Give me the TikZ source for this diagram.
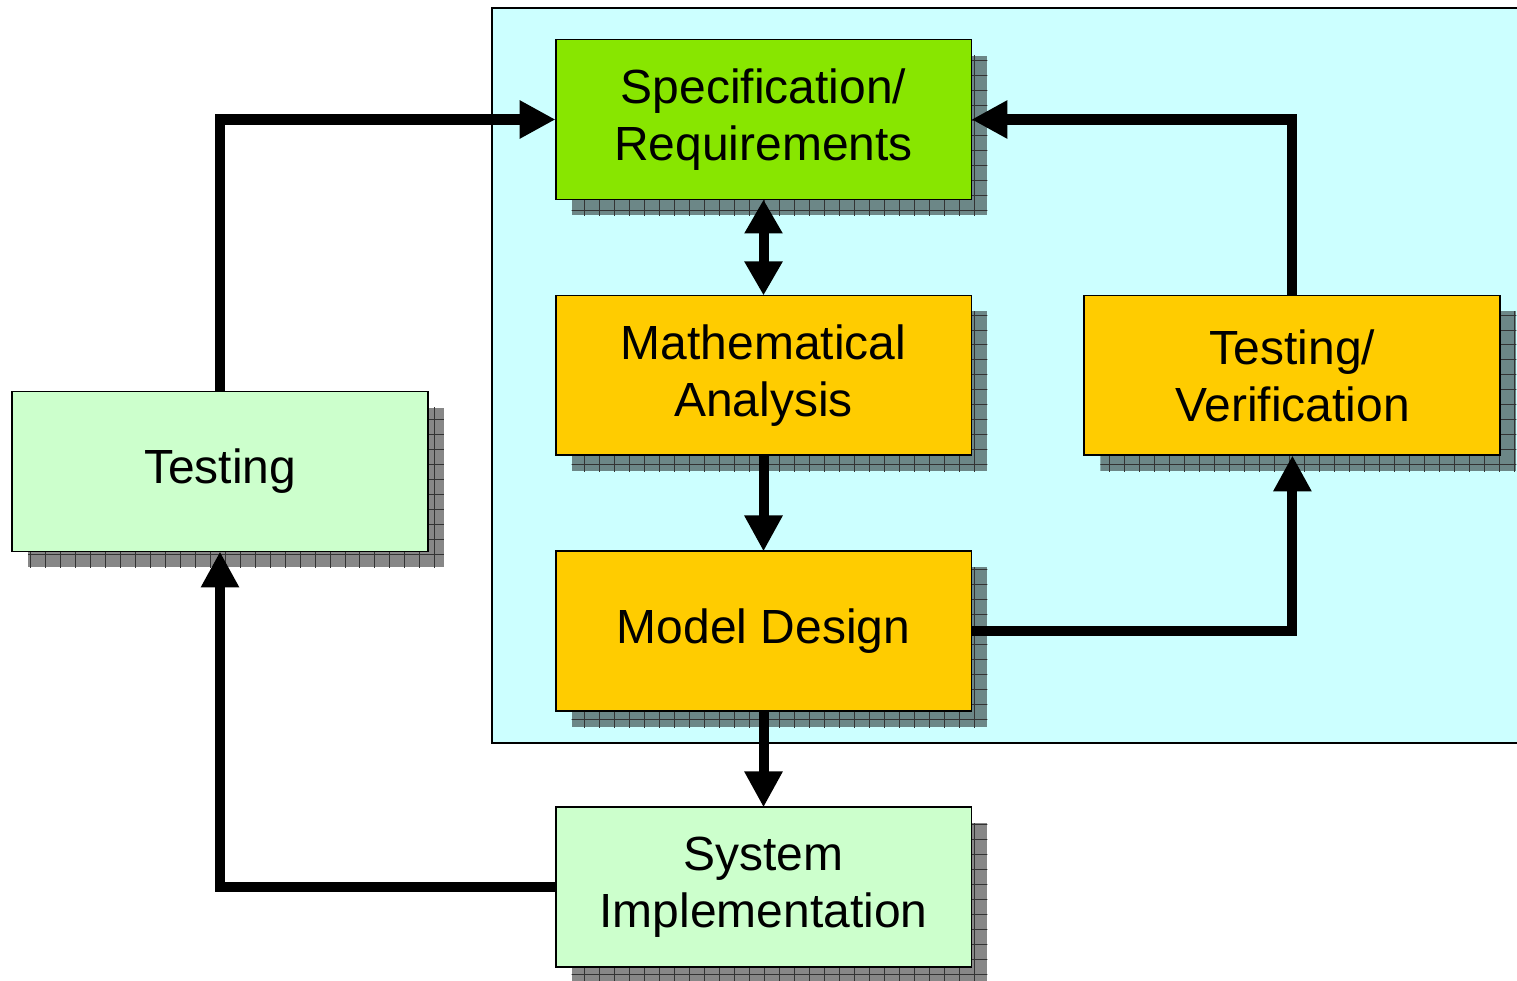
\documentclass[tikz,border=0pt]{standalone}
\usepackage{fontspec}
\setmainfont{Liberation Sans}
\usetikzlibrary{calc,arrows.meta,positioning}
\pgfdeclarelayer{panel}
\pgfdeclarelayer{shade}
\pgfsetlayers{panel,shade,main}
\definecolor{specgreen}{HTML}{88E600}
\definecolor{stagegold}{HTML}{FFCC00}
\definecolor{palegreen}{HTML}{CCFFCC}
\definecolor{panelcyan}{HTML}{CCFFFF}
\tikzset{
  block/.style={draw=black, line width=1.1pt, minimum width=8.32cm, minimum height=3.2cm,
    inner sep=0pt, outer sep=0pt, align=center, font=\fontsize{27.3}{32.5}\selectfont},
  flow/.style={line width=5.7pt, -{Triangle[length=0.72cm,width=0.72cm]}},
  twoway/.style={line width=5.7pt, {Triangle[length=0.68cm,width=0.72cm]}-{Triangle[length=0.68cm,width=0.72cm]}}
}
\begin{document}
\begin{tikzpicture}[x=0.02cm,y=-0.02cm, node distance=1.92cm]
  \useasboundingbox (0,0) rectangle (1517,980);
  \begin{pgfonlayer}{panel}
    \draw[fill=panelcyan, line width=1.1pt] (492,743) -- (492,8) -- (1530,8)
      -- (1530,743) -- cycle;
  \end{pgfonlayer}
  \node[block, fill=specgreen] (spec) at (763.5,119.5) {Specification/\\Requirements};
  \node[block, fill=stagegold, below=of spec] (math) {Mathematical\\Analysis};
  \node[block, fill=stagegold, below=of math] (model) {Model Design};
  \node[block, fill=palegreen, below=of model] (sysimpl) {System\\Implementation};
  \node[block, fill=stagegold, right=2.26cm of math] (verif) {Testing/\\Verification};
  \node[block, fill=palegreen] (testing) at (220,471.5) {Testing};
  % grid shadows
  \begin{pgfonlayer}{shade}
    \foreach \n in {spec,math,model,sysimpl,verif,testing}{
      \begin{scope}
        \clip ($(\n.south west)+(16,16)$) rectangle ($(\n.north east)+(16,16)$);
        \fill[black, opacity=.47] ($(\n.south west)+(16,16)$) rectangle ($(\n.north east)+(16,16)$);
        \draw[step=0.3cm, line width=0.5pt, black!80] ($(\n.south west)+(0,30)$) grid ($(\n.north east)+(30,0)$);
      \end{scope}
    }
  \end{pgfonlayer}
  \draw[flow] (testing.north) |- (spec.west);
  \draw[flow] (verif.north) |- (spec.east);
  \draw[twoway] (spec) -- (math);
  \draw[flow] (math) -- (model);
  \draw[flow] (model.east) -| (verif.south);
  \draw[flow] (model) -- (sysimpl);
  \draw[flow] (sysimpl.west) -| (testing.south);
\end{tikzpicture}
\end{document}
